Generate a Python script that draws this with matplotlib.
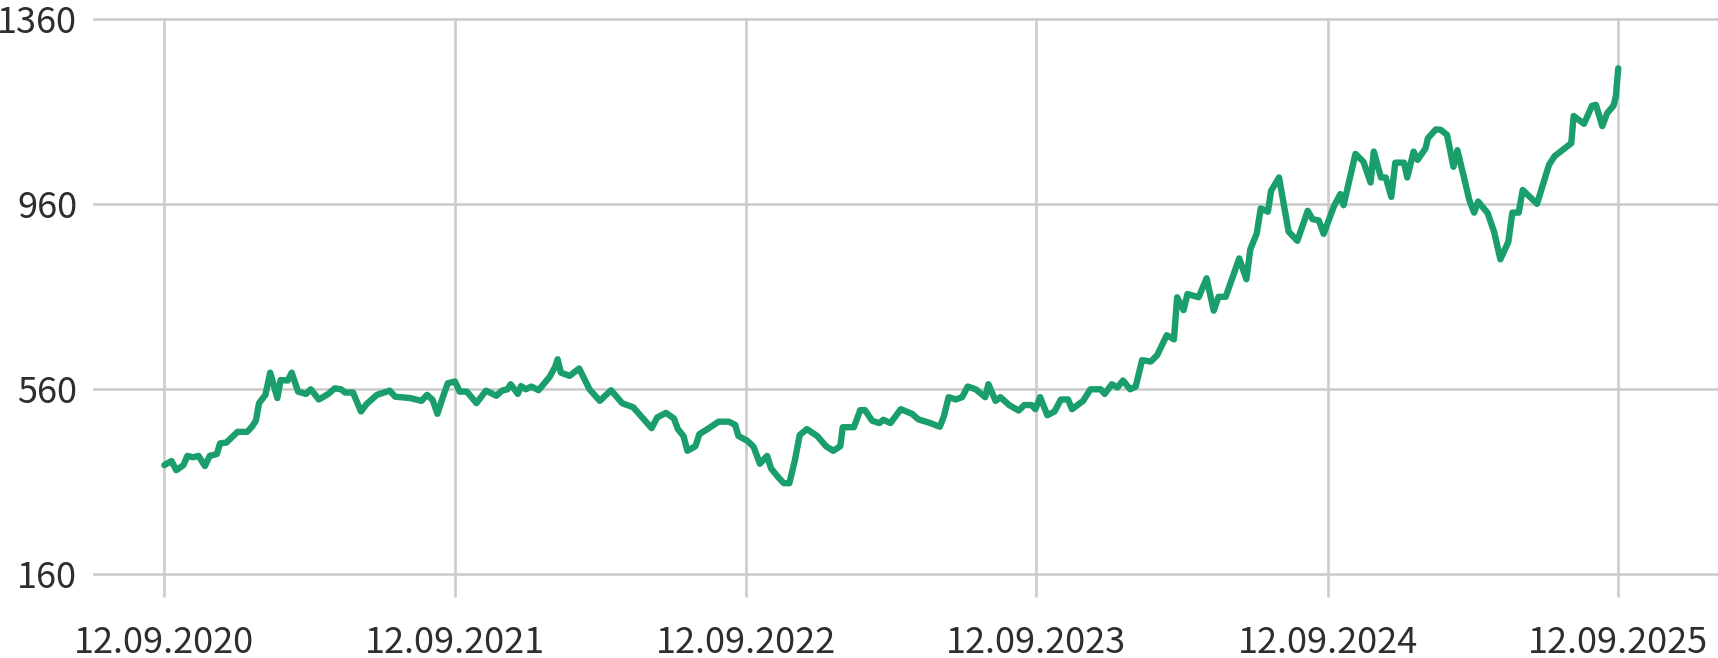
import numpy as np
import pandas as pd
import matplotlib
matplotlib.use("Agg")
import matplotlib.pyplot as plt
import matplotlib.dates as mdates

plt.rcParams['font.family'] = ['Noto Sans CJK SC', 'DejaVu Sans']

# days after 12.09.2020 and price
start = pd.Timestamp("2020-09-12")
day_offsets = [0, 9, 15, 24, 29, 36, 43, 51, 57, 66, 70, 78, 92, 104, 110, 115, 119, 127, 133, 142,
               146, 155, 160, 168, 178, 184, 194, 206, 214, 222, 227, 237, 247, 254, 267, 283, 290, 309,
               323, 330, 337, 343, 350, 356, 365, 371, 380, 392, 404, 417, 424, 431, 435, 444, 448, 454,
               461, 470, 484, 491, 494, 498, 509, 521, 534, 547, 561, 575, 589, 612, 619, 630, 640, 645,
               652, 657, 667, 672, 684, 696, 709, 717, 721, 732, 740, 748, 757, 762, 771, 778, 785, 792,
               798, 807, 820, 831, 840, 849, 852, 866, 874, 880, 889, 898, 903, 912, 925, 939, 947, 962,
               974, 979, 985, 994, 1002, 1009, 1019, 1031, 1035, 1044, 1050, 1061, 1073, 1080, 1089, 1094,
               1100, 1109, 1118, 1126, 1135, 1140, 1154, 1163, 1176, 1181, 1190, 1197, 1204, 1213, 1220,
               1228, 1239, 1247, 1259, 1268, 1272, 1280, 1285, 1299, 1309, 1318, 1324, 1333, 1350, 1359,
               1364, 1372, 1377, 1386, 1390, 1400, 1412, 1423, 1436, 1442, 1450, 1456, 1469, 1477, 1481,
               1496, 1506, 1515, 1519, 1528, 1534, 1541, 1546, 1557, 1561, 1569, 1574, 1584, 1587, 1597,
               1603, 1611, 1619, 1624, 1632, 1639, 1645, 1650, 1662, 1670, 1678, 1688, 1693, 1701, 1706,
               1724, 1739, 1746, 1755, 1767, 1770, 1783, 1793, 1798, 1806, 1812, 1820, 1823, 1826]
prices = [396, 405, 385, 396, 416, 413, 416, 394, 416, 420, 443, 445, 468, 468, 479, 492, 530, 548, 596, 541,
          580, 579, 596, 555, 550, 560, 538, 550, 562, 560, 553, 553, 512, 528, 548, 557, 544, 541,
          535, 548, 537, 507, 544, 573, 577, 555, 555, 530, 557, 546, 557, 560, 571, 550, 567, 560,
          566, 558, 587, 609, 625, 596, 589, 605, 560, 535, 558, 530, 521, 476, 499, 509, 497, 474,
          459, 427, 437, 463, 476, 490, 490, 483, 459, 449, 436, 399, 416, 389, 370, 357, 357, 407,
          461, 474, 459, 437, 427, 437, 478, 478, 515, 515, 492, 487, 494, 487, 517, 507, 495, 487,
          479, 501, 543, 538, 543, 566, 560, 543, 571, 535, 543, 526, 514, 526, 526, 517,
          543, 504, 512, 538, 538, 517, 535, 560, 560, 550, 571, 564, 579, 560, 566,
          623, 620, 634, 677, 668, 759, 731, 766, 759, 800, 730, 760, 760, 843, 798,
          863, 897, 951, 944, 989, 1018, 901, 881, 946, 928, 925, 896, 956, 982, 958,
          1069, 1052, 1007, 1074, 1018, 1018, 976, 1050, 1050, 1018, 1074, 1056, 1081, 1103, 1122,
          1121, 1110, 1041, 1077, 1020, 969, 942, 966, 941, 901, 841, 879, 942, 942, 991,
          961, 1045, 1064, 1076, 1092, 1151, 1134, 1173, 1175, 1129, 1157, 1173, 1193, 1254]

tick_years = [2020, 2021, 2022, 2023, 2024, 2025]
y_ticks = [160, 560, 960, 1360]

dates = start + pd.to_timedelta(day_offsets, unit="D")
tick_dates = [pd.Timestamp(f"{y}-09-12") for y in tick_years]
tick_labels = [d.strftime("%d.%m.%Y") for d in tick_dates]

grid_col = "#cccccc"
fig = plt.figure(figsize=(17.18, 6.58), dpi=100)
ax = fig.add_axes([94 / 1718, (658 - 574.3) / 658, 1624 / 1718, 555 / 658])

ax.plot(dates, prices, color="#1a9e6b", lw=4.6, solid_joinstyle="round", solid_capstyle="round", zorder=3)

ax.set_xticks(tick_dates)
ax.set_xticklabels(tick_labels)
ax.set_yticks(y_ticks)
ax.set_ylim(160, 1360)
ax.set_xlim(start - pd.Timedelta(days=88.3), tick_dates[-1] + pd.Timedelta(days=125.3))

ax.grid(True, color=grid_col, lw=1.9, clip_on=False)
for s in ax.spines.values():
    s.set_visible(False)
ax.tick_params(axis="x", length=16.5, width=1.9, color=grid_col, pad=20,
               labelsize=26, labelcolor="#2e2e2e")
ax.tick_params(axis="y", length=0, pad=12, labelsize=26, labelcolor="#2e2e2e")
for lbl in ax.get_xticklabels() + ax.get_yticklabels():
    lbl.set_fontweight("light")

fig.savefig("out.png", dpi=100, facecolor="white")
